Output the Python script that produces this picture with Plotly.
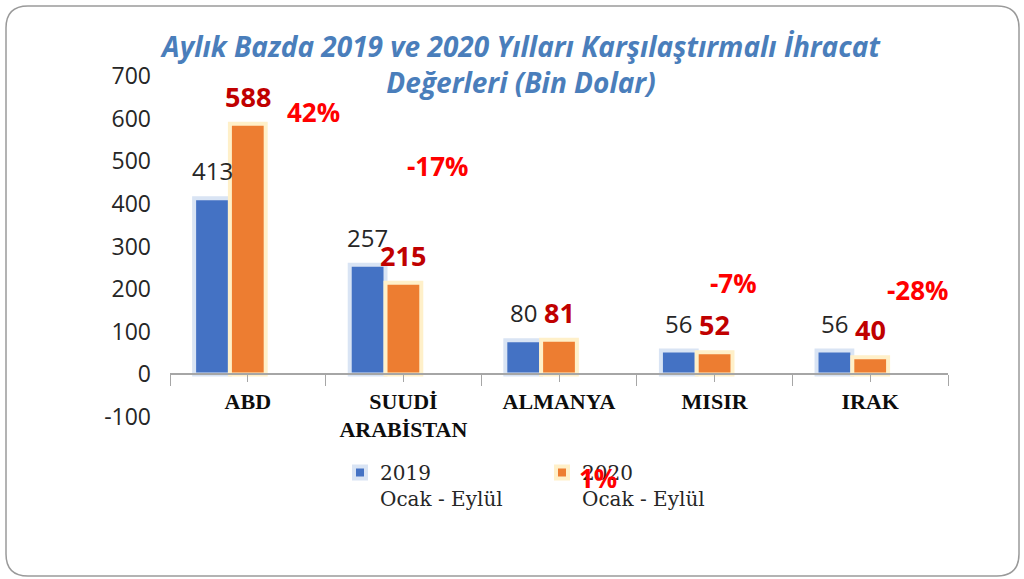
import plotly.graph_objects as go

# ---- data ----
categories = ["ABD", "SUUDİ<br>ARABİSTAN", "ALMANYA", "MISIR", "IRAK"]
values_2019 = [413, 257, 80, 56, 56]
values_2020 = [588, 215, 81, 52, 40]
pct_labels = ["42%", "-17%", "1%", "-7%", "-28%"]
series_names = ["2019<br>Ocak - Eylül", "2020<br>Ocak - Eylül"]
y_ticks = [-100, 0, 100, 200, 300, 400, 500, 600, 700]

# ---- layout helpers (positions of the hand-placed percentage labels) ----
pct_pos_x = [0.42, 1.22, 2.25, 3.12, 4.31]
pct_pos_y = [615, 490, -244, 214, 197]

W, H = 1024, 579
ML, MR, MT, MB = 170, 76, 76, 162
PW, PH = W - ML - MR, H - MT - MB
YMIN, YMAX = y_ticks[0], y_ticks[-1]

BLUE = "#4472C4"
ORANGE = "#ED7D31"
xs = list(range(len(categories)))

fig = go.Figure()
fig.add_trace(go.Bar(x=xs, y=values_2019, name=series_names[0],
                     marker=dict(color=BLUE, line=dict(color="#D9E4F4", width=4)),
                     hoverinfo="skip"))
fig.add_trace(go.Bar(x=xs, y=values_2020, name=series_names[1],
                     marker=dict(color=ORANGE, line=dict(color="#FFF0C9", width=4)),
                     hoverinfo="skip"))
fig.add_trace(go.Bar(x=xs, y=[0] * len(xs), name="pct", showlegend=False,
                     marker=dict(color="rgba(0,0,0,0)", line=dict(width=0)),
                     hoverinfo="skip"))

slot_px = PW / len(categories) * (1 - 0.31) / 3
px_per_unit = PH / (YMAX - YMIN)

ann = []
for i, v in enumerate(values_2019):
    ann.append(dict(x=xs[i], y=v, xref="x", yref="y", text=str(v), showarrow=False,
                    xshift=-slot_px, yanchor="bottom", yshift=9,
                    font=dict(family="Open Sans", size=24, color="#262626")))
for i, v in enumerate(values_2020):
    ann.append(dict(x=xs[i], y=v, xref="x", yref="y", text="<b>%d</b>" % v, showarrow=False,
                    yanchor="bottom", yshift=7,
                    font=dict(family="Open Sans", size=27, color="#C00000")))
for i, t in enumerate(pct_labels):
    yy = min(max(pct_pos_y[i], YMIN), YMAX)
    ann.append(dict(x=pct_pos_x[i], y=yy, xref="x", yref="y",
                    yshift=(pct_pos_y[i] - yy) * px_per_unit,
                    text="<b>%s</b>" % t, showarrow=False,
                    font=dict(family="Open Sans", size=26, color="#FF0000")))

# rounded outer border (in paper coords relative to plot area)
def px2x(px):
    return (px - ML) / PW

def py2y(py):
    return (MT + PH - py) / PH

x0, x1, y0, y1, r = 6, 1019, 6, 576, 22
path = (
    f"M {px2x(x0 + r)},{py2y(y0)} L {px2x(x1 - r)},{py2y(y0)} "
    f"Q {px2x(x1)},{py2y(y0)} {px2x(x1)},{py2y(y0 + r)} "
    f"L {px2x(x1)},{py2y(y1 - r)} Q {px2x(x1)},{py2y(y1)} {px2x(x1 - r)},{py2y(y1)} "
    f"L {px2x(x0 + r)},{py2y(y1)} Q {px2x(x0)},{py2y(y1)} {px2x(x0)},{py2y(y1 - r)} "
    f"L {px2x(x0)},{py2y(y0 + r)} Q {px2x(x0)},{py2y(y0)} {px2x(x0 + r)},{py2y(y0)} Z"
)

fig.update_layout(
    width=W, height=H,
    margin=dict(l=ML, r=MR, t=MT, b=MB),
    paper_bgcolor="white", plot_bgcolor="white",
    barmode="group", bargap=0.31, bargroupgap=0.0,
    title=dict(text="Aylık Bazda 2019 ve 2020 Yılları Karşılaştırmalı İhracat<br>Değerleri (Bin Dolar)",
               x=521 / W, xanchor="center", xref="container", y=1 - 57 / H, yref="container", yanchor="top",
               font=dict(family="Open Sans", size=28, color="#4A7EBB", weight="bold", style="italic")),
    xaxis=dict(range=[-0.5, len(categories) - 0.5], tickmode="array", tickvals=xs, ticktext=categories,
               anchor="free", position=(0 - YMIN) / (YMAX - YMIN),
               showline=True, linecolor="#A6A6A6", linewidth=1.5,
               ticks="outside", ticklen=7, tickcolor="#A6A6A6", tickwidth=1.2,
               minor=dict(tickmode="array", tickvals=[i - 0.5 for i in range(len(categories) + 1)],
                          ticks="outside", ticklen=11, tickcolor="#A6A6A6", tickwidth=1.2, showgrid=False),
               showgrid=False, zeroline=False,
               tickfont=dict(family="Liberation Serif", size=22, color="#0D0D0D", weight="bold")),
    yaxis=dict(range=[YMIN, YMAX], tickmode="array", tickvals=y_ticks, ticktext=[str(v) for v in y_ticks],
               showgrid=False, zeroline=False, showline=False, ticks="",
               tickfont=dict(family="Open Sans", size=23, color="#262626"), ticklabelstandoff=18),
    legend=dict(orientation="h", x=(340 - ML) / PW, xanchor="left", y=(MT + PH - 453) / PH, yanchor="top",
                entrywidth=157, entrywidthmode="pixels", valign="top",
                font=dict(family="DejaVu Serif", size=20, color="#262626"), bgcolor="rgba(0,0,0,0)"),
    annotations=ann,
    shapes=[dict(type="path", path=path, xref="paper", yref="paper",
                 line=dict(color="#9A9A9A", width=1.5), layer="above")],
    showlegend=True,
)

fig.write_html("out.html", post_script="document.body.style.margin='0';",
               config={"displayModeBar": False})
